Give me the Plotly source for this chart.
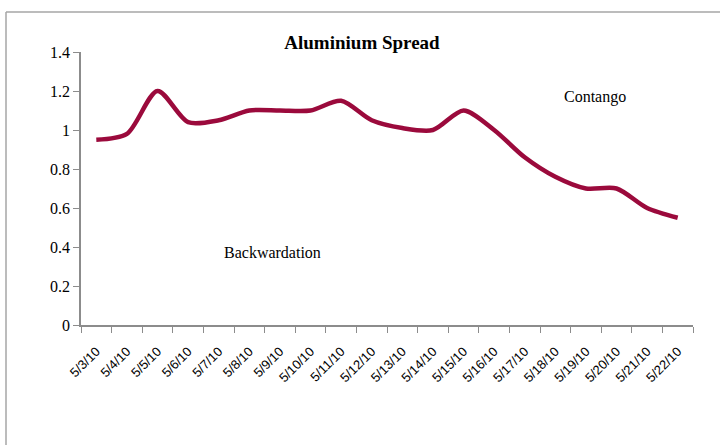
import plotly.graph_objects as go

dates = ["5/3/10", "5/4/10", "5/5/10", "5/6/10", "5/7/10", "5/8/10", "5/9/10",
         "5/10/10", "5/11/10", "5/12/10", "5/13/10", "5/14/10", "5/15/10",
         "5/16/10", "5/17/10", "5/18/10", "5/19/10", "5/20/10", "5/21/10", "5/22/10"]
spread = [0.95, 0.98, 1.20, 1.04, 1.05, 1.10, 1.10, 1.10, 1.15, 1.05,
          1.01, 1.00, 1.10, 1.00, 0.86, 0.76, 0.70, 0.70, 0.60, 0.55]
y_ticks = [0, 0.2, 0.4, 0.6, 0.8, 1, 1.2, 1.4]

W, H = 720, 445
L, R, T, B = 81, 27, 52, 120
pw, ph = W - L - R, H - T - B

fig = go.Figure()
fig.add_trace(go.Scatter(
    x=dates, y=spread, mode="lines",
    line=dict(color="#9b0a3c", width=4.5, shape="spline", smoothing=0.8),
    hoverinfo="skip", showlegend=False,
))

serif = "Liberation Serif, DejaVu Serif, serif"
axis_grey = "#8c8c8c"

fig.update_layout(
    width=W, height=H,
    margin=dict(l=L, r=R, t=T, b=B),
    paper_bgcolor="white", plot_bgcolor="white",
    showlegend=False,
    title=dict(text="<b>Aluminium Spread</b>", x=(362) / W, xanchor="center",
               y=1 - 42 / H, yanchor="middle",
               font=dict(family=serif, size=19, color="black")),
    xaxis=dict(
        type="category", range=[-0.5, len(dates) - 0.5],
        tickson="boundaries", ticks="outside", ticklen=6, tickcolor=axis_grey,
        showline=True, linecolor=axis_grey, linewidth=1.5,
        showgrid=False, tickangle=-45, ticklabelstandoff=12,
        tickfont=dict(family="Liberation Sans, Arial, sans-serif", size=13, color="black"),
    ),
    yaxis=dict(
        range=[0, 1.4], tickvals=y_ticks,
        ticktext=[f"{v:g}" for v in y_ticks],
        ticks="outside", ticklen=6, tickcolor=axis_grey,
        showline=True, linecolor=axis_grey, linewidth=1.5,
        showgrid=False, zeroline=False,
        tickfont=dict(family=serif, size=16, color="black"),
    ),
)

fig.add_annotation(x=16.3, y=1.17, xref="x", yref="y", text="Contango",
                   showarrow=False, font=dict(family=serif, size=16, color="black"))
fig.add_annotation(x=5.77, y=0.374, xref="x", yref="y", text="Backwardation",
                   showarrow=False, font=dict(family=serif, size=16, color="black"))

# chart frame (left and top edges)
fx0 = (6 - L) / pw
fy_top = (H - B - 12) / ph
fy_bot = (H - B - H - 5) / ph
fx1 = (W + 5 - L) / pw
border = dict(color="#a6a6a6", width=1.5)
fig.add_shape(type="line", xref="paper", yref="paper",
              x0=fx0, x1=fx0, y0=fy_bot, y1=fy_top, line=border)
fig.add_shape(type="line", xref="paper", yref="paper",
              x0=fx0, x1=fx1, y0=fy_top, y1=fy_top, line=border)

fig.write_html("out.html")
